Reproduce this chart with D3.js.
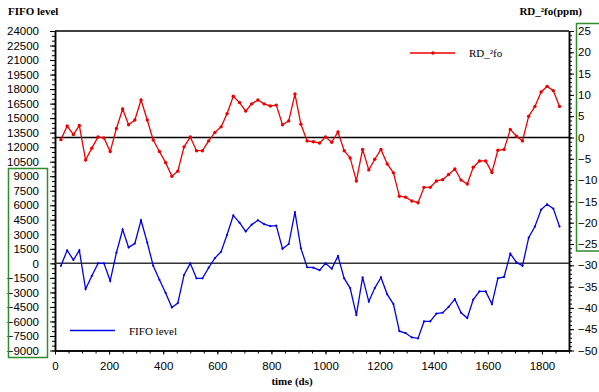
<!DOCTYPE html>
<html>
<head>
<meta charset="utf-8">
<script src="https://cdn.jsdelivr.net/npm/d3@7"></script>
<style>
  html, body { margin: 0; padding: 0; background: #fff; }
  svg { display: block; }
</style>
</head>
<body>
<svg id="chart" width="599" height="392"></svg>
<script>
// Sample times (ds)
const time = [
  22, 45, 68, 90, 113, 136, 159, 181, 204, 227,
  250, 272, 295, 318, 341, 363, 386, 409, 432, 454,
  477, 500, 523, 545, 568, 591, 614, 636, 659, 682,
  705, 727, 750, 773, 796, 818, 841, 864, 887, 909,
  932, 955, 978, 1000, 1023, 1046, 1069, 1091, 1114, 1137,
  1160, 1182, 1205, 1228, 1251, 1273, 1296, 1319, 1342, 1364,
  1387, 1410, 1433, 1455, 1478, 1501, 1524, 1546, 1569, 1592,
  1615, 1637, 1660, 1683, 1706, 1728, 1751, 1774, 1797, 1819,
  1842, 1865
];

// FIFO level (left axis)
const fifoLevel = [
  -250, 1350, 350, 1350, -2650, -1300, 0, 0, -1800, 1100,
  3500, 1650, 2050, 4450, 2150, -250, -1700, -3050, -4550, -4100,
  -1200, 0, -1550, -1550, -450, 550, 1200, 2950, 4950, 4200,
  3300, 4000, 4450, 4050, 3850, 3900, 1500, 2000, 5300, 1550,
  -400, -450, -700, 0, -550, 750, -1550, -2550, -5350, -1450,
  -3950, -2550, -1450, -3200, -4200, -7000, -7200, -7650, -7750, -6000,
  -6000, -5200, -5100, -4500, -3700, -5100, -5650, -3750, -2900, -2900,
  -4200, -1550, -1400, 1000, 100, -250, 2650, 3800, 5550, 6100,
  5650, 3800
];

// RD_²fo in ppm (right axis)
const rdFo = [
  -0.5, 2.7, 0.7, 2.8, -5.3, -2.5, 0.1, -0.1, -3.3, 2.1,
  6.7, 3.0, 4.1, 8.8, 4.1, -0.6, -3.3, -5.9, -9.1, -7.9,
  -2.2, 0.1, -3.1, -3.1, -0.8, 1.2, 2.5, 5.6, 9.7, 8.2,
  6.2, 7.9, 8.8, 7.9, 7.4, 7.6, 3.0, 3.9, 10.2, 3.1,
  -0.8, -1.0, -1.3, 0.1, -1.1, 1.3, -3.1, -4.8, -10.2, -2.8,
  -7.6, -5.1, -2.8, -6.2, -8.3, -13.8, -14.0, -14.9, -15.3, -11.7,
  -11.7, -10.2, -9.9, -8.7, -7.4, -10.0, -10.9, -7.0, -5.5, -5.5,
  -8.2, -3.0, -2.8, 1.9, 0.3, -0.8, 5.0, 7.3, 10.7, 12.0,
  11.0, 7.3
];

// Axis ticks
const xTicks = [0, 200, 400, 600, 800, 1000, 1200, 1400, 1600, 1800];
const leftTicks = d3.range(-9000, 24001, 1500);
const rightTicks = d3.range(-50, 26, 5);

const svg = d3.select("#chart");
const plotLeft = 55, plotRight = 569, plotTop = 31, plotBottom = 350.5;

const x = d3.scaleLinear().domain([0, 1900]).range([plotLeft, plotRight]);
const yL = d3.scaleLinear().domain([-9000, 24000]).range([plotBottom, plotTop]);
const yR = d3.scaleLinear().domain([-50, 25]).range([plotBottom, plotTop]);

const sans = "'Liberation Sans', Arial, sans-serif";
const serif = "'Liberation Serif', 'Times New Roman', serif";

function styleAxis(g) {
  g.selectAll("path.domain").attr("stroke", "#000").attr("stroke-width", 1.5);
  g.selectAll(".tick line").attr("stroke", "#000").attr("stroke-width", 1);
  g.selectAll(".tick text").attr("fill", "#000")
    .style("font-family", sans).style("font-size", "11.5px");
}

// Minor ticks
svg.append("g").attr("transform", `translate(${plotLeft},0)`)
  .call(d3.axisLeft(yL).tickValues(d3.range(-9000, 24001, 500)).tickSize(3).tickSizeOuter(0).tickFormat(""))
  .call(styleAxis);
svg.append("g").attr("transform", `translate(${plotRight},0)`)
  .call(d3.axisRight(yR).tickValues(d3.range(-50, 26, 1)).tickSize(3).tickSizeOuter(0).tickFormat(""))
  .call(styleAxis);
svg.append("g").attr("transform", `translate(0,${plotBottom})`)
  .call(d3.axisBottom(x).tickValues(d3.range(0, 1901, 50)).tickSize(3).tickSizeOuter(0).tickFormat(""))
  .call(styleAxis);

// Major ticks with labels
svg.append("g").attr("transform", `translate(${plotLeft},0)`)
  .call(d3.axisLeft(yL).tickValues(leftTicks).tickSize(5).tickPadding(11).tickSizeOuter(0).tickFormat(d3.format("d")))
  .call(styleAxis);
svg.append("g").attr("transform", `translate(${plotRight},0)`)
  .call(d3.axisRight(yR).tickValues(rightTicks).tickSize(5).tickPadding(4).tickSizeOuter(0).tickFormat(d3.format("d")))
  .call(styleAxis);
svg.append("g").attr("transform", `translate(0,${plotBottom})`)
  .call(d3.axisBottom(x).tickValues(xTicks).tickSize(4).tickPadding(7).tickSizeOuter(0).tickFormat(d3.format("d")))
  .call(styleAxis);

// Top frame line
svg.append("line")
  .attr("x1", plotLeft).attr("x2", plotRight).attr("y1", plotTop).attr("y2", plotTop)
  .attr("stroke", "#000").attr("stroke-width", 1.5);

// Zero reference lines
svg.append("line")
  .attr("x1", plotLeft).attr("x2", plotRight).attr("y1", yR(0)).attr("y2", yR(0))
  .attr("stroke", "#000").attr("stroke-width", 1.5);
svg.append("line")
  .attr("x1", plotLeft).attr("x2", plotRight).attr("y1", yL(0)).attr("y2", yL(0))
  .attr("stroke", "#333").attr("stroke-width", 1.5);

// Series lines
const lineL = d3.line().x((d, i) => x(time[i])).y(d => yL(d));
const lineR = d3.line().x((d, i) => x(time[i])).y(d => yR(d));

svg.append("path").datum(fifoLevel)
  .attr("d", lineL).attr("fill", "none")
  .attr("stroke", "#0000ee").attr("stroke-width", 1.3);
svg.append("g").selectAll("circle").data(fifoLevel).join("circle")
  .attr("cx", (d, i) => x(time[i])).attr("cy", d => yL(d)).attr("r", 1.1)
  .attr("fill", "#0000ee");

svg.append("path").datum(rdFo)
  .attr("d", lineR).attr("fill", "none")
  .attr("stroke", "#ee0000").attr("stroke-width", 1.3);
svg.append("g").selectAll("circle").data(rdFo).join("circle")
  .attr("cx", (d, i) => x(time[i])).attr("cy", d => yR(d)).attr("r", 1.7)
  .attr("fill", "#ee0000");

// Legends
svg.append("line").attr("x1", 410).attr("x2", 455).attr("y1", 53).attr("y2", 53)
  .attr("stroke", "#ee0000").attr("stroke-width", 1.3);
svg.append("circle").attr("cx", 433).attr("cy", 53).attr("r", 1.7).attr("fill", "#ee0000");
svg.append("text").attr("x", 469).attr("y", 57).text("RD_²fo")
  .style("font-family", serif).style("font-size", "11px").attr("fill", "#000");

svg.append("line").attr("x1", 70).attr("x2", 115).attr("y1", 330.5).attr("y2", 330.5)
  .attr("stroke", "#0000ee").attr("stroke-width", 1.3);
svg.append("text").attr("x", 129).attr("y", 334.5).text("FIFO level")
  .style("font-family", serif).style("font-size", "11px").attr("fill", "#000");

// Axis titles
svg.append("text").attr("x", 8).attr("y", 15).text("FIFO level")
  .style("font-family", serif).style("font-size", "11px").style("font-weight", "bold");
svg.append("text").attr("x", 582).attr("y", 15).attr("text-anchor", "end").text("RD_²fo(ppm)")
  .style("font-family", serif).style("font-size", "11px").style("font-weight", "bold");
svg.append("text").attr("x", 292).attr("y", 385).attr("text-anchor", "middle").text("time (ds)")
  .style("font-family", serif).style("font-size", "11px").style("font-weight", "bold");

// Highlight boxes around the axis spans
svg.append("rect").attr("x", 8.5).attr("y", 168.5).attr("width", 39).attr("height", 189)
  .attr("fill", "none").attr("stroke", "#2e8b2e").attr("stroke-width", 1.5);
svg.append("rect").attr("x", 576.5).attr("y", 23.5).attr("width", 40).attr("height", 227.5)
  .attr("fill", "none").attr("stroke", "#2e8b2e").attr("stroke-width", 1.5);
</script>
</body>
</html>
